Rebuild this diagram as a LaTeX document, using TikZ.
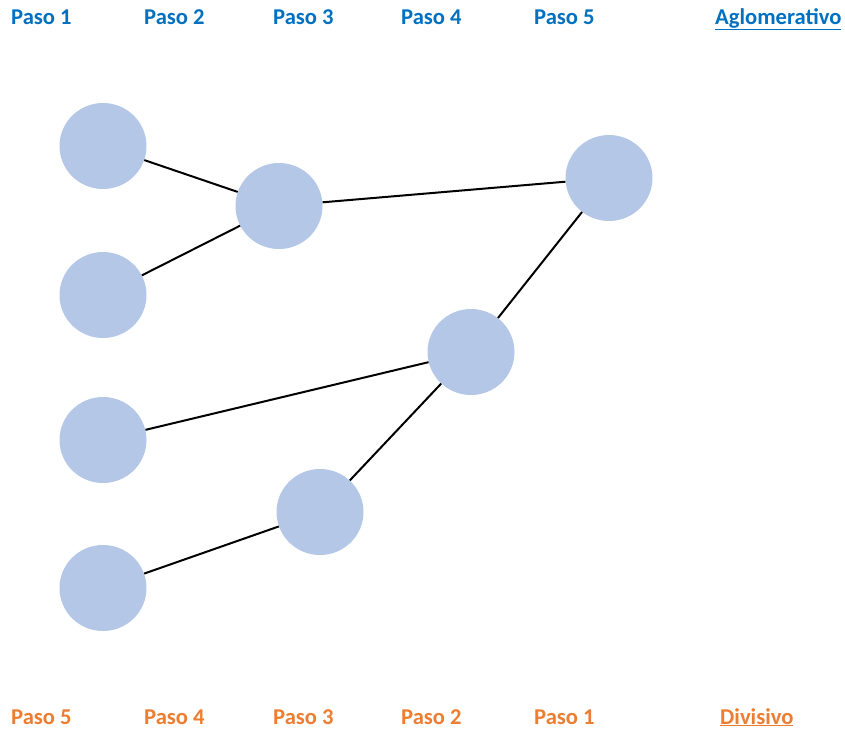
\documentclass[tikz,border=0pt]{standalone}
\usepackage{fontspec}
\setmainfont{Carlito}
\usetikzlibrary{shapes.geometric}
\definecolor{topblue}{RGB}{0,112,192}
\definecolor{botorange}{RGB}{237,125,49}
\definecolor{nodefill}{RGB}{180,199,231}
\begin{document}
\begin{tikzpicture}[x=1pt,y=-1pt,
  clus/.style={ellipse,fill=nodefill,minimum width=87pt,minimum height=86pt,inner sep=0pt},
  link/.style={line width=2pt,black},
  lab/.style={anchor=base west,inner sep=0pt,text depth=0pt,font=\fontsize{22.6}{26}\selectfont\bfseries},
  toplab/.style={lab,text=topblue},
  botlab/.style={lab,text=botorange}]
\useasboundingbox (0,0) rectangle (845,729);
% top labels
\node[toplab] (t1) at (11,24) {Paso 1};
\node[toplab] (t2) at (144,24) {Paso 2};
\node[toplab] (t3) at (273,24) {Paso 3};
\node[toplab] (t4) at (401,24) {Paso 4};
\node[toplab] (t5) at (534,24) {Paso 5};
\node[toplab] (tag) at (715,24) {\underline{Aglomerativo}};
% bottom labels
\node[botlab] (b5) at (11,724) {Paso 5};
\node[botlab] (b4) at (144,724) {Paso 4};
\node[botlab] (b3) at (273,724) {Paso 3};
\node[botlab] (b2) at (401,724) {Paso 2};
\node[botlab] (b1) at (534,724) {Paso 1};
\node[botlab] (bdv) at (720,724) {\underline{Divisivo}};
% nodes
\node[clus] (a1) at (103,146) {};
\node[clus] (a2) at (103,295) {};
\node[clus] (a3) at (103,440) {};
\node[clus] (a4) at (103,588) {};
\node[clus] (b) at (279,206) {};
\node[clus] (c) at (609,178) {};
\node[clus] (d) at (471,352) {};
\node[clus] (e) at (320,512) {};
% links
\draw[link] (a1) -- (b);
\draw[link] (a2) -- (b);
\draw[link] (b) -- (c);
\draw[link] (a3) -- (d);
\draw[link] (a4) -- (e);
\draw[link] (e) -- (d);
\draw[link] (d) -- (c);
\end{tikzpicture}
\end{document}
